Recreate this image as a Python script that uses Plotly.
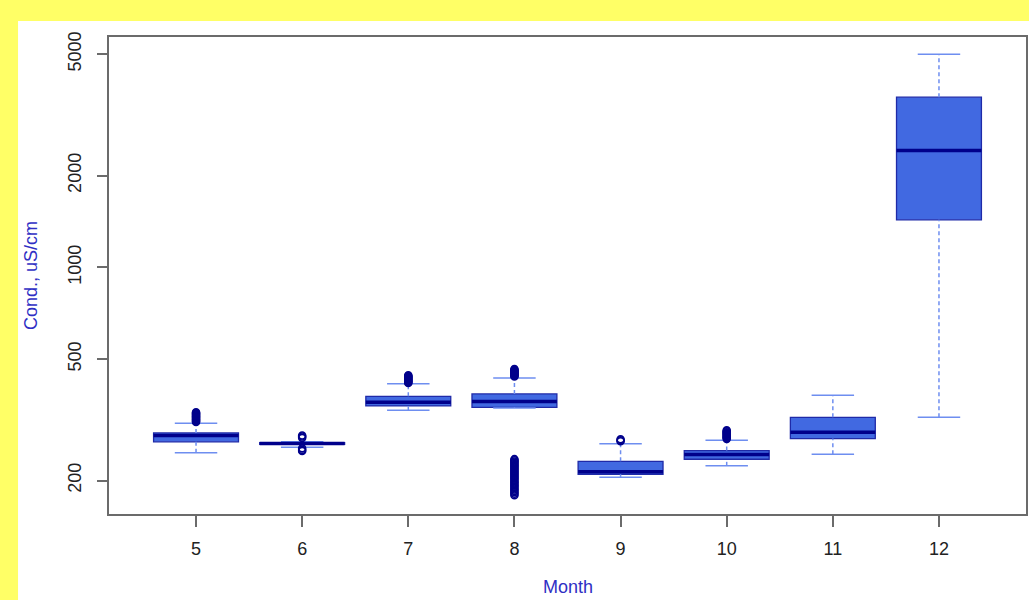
import plotly.graph_objects as go

# ---- data ----
months = [5, 6, 7, 8, 9, 10, 11, 12]
q1 = [267.8, 263.0, 351.3, 347.6, 209.7, 234.9, 274.5, 1432]
median = [280.8, 264.5, 361.0, 362.9, 213.6, 243.4, 287.9, 2415]
q3 = [286.6, 266.0, 377.7, 384.6, 231.3, 250.8, 322.3, 3613]
lower_whisker = [246.5, 257.2, 339.9, 346.0, 205.1, 223.5, 243.9, 322.3]
upper_whisker = [308.2, 267.8, 415.6, 434.0, 263.8, 271.0, 380.6, 4996]

outliers = {
    5: [311, 313, 315, 317, 319, 321, 323, 325, 327, 329, 331, 333, 335],
    6: [281, 279, 276, 255, 252, 250],
    7: [418, 420, 423, 425, 428, 430, 433, 435, 438, 440, 443],
    8: [439, 441, 444, 446, 449, 451, 454, 456, 459, 461, 464,
        235, 233, 231, 229, 227, 225, 223, 221, 219, 217, 215, 213, 211,
        209, 207, 205, 203, 201, 199, 197, 195, 193, 191, 189, 187, 185,
        183, 181, 179],
    9: [269, 271, 273],
    10: [274, 276, 278, 280, 282, 284, 286, 288, 290, 292],
    11: [],
    12: [],
}

y_ticks = [200, 500, 1000, 2000, 5000]
y_tick_labels = ["200", "500", "1000", "2000", "5000"]
x_title = "Month"
y_title = "Cond., uS/cm"

# ---- style ----
BOX_FILL = "#4169E1"
BOX_LINE = "#1f2aa8"
MEDIAN = "#00008B"
WHISK = "#6e8ef0"
OUT = "#00008B"
FRAME = "#6b6b6b"
LABEL = "#2f2fc4"
BOX_W = 0.8
CAP_W = 0.4

fig = go.Figure()

# whiskers (dashed)
wx, wy = [], []
for m, a, b, c, d in zip(months, q1, q3, lower_whisker, upper_whisker):
    wx += [m, m, None, m, m, None]
    wy += [b, d, None, c, a, None]
fig.add_trace(go.Scatter(x=wx, y=wy, mode="lines",
                         line=dict(color=WHISK, width=1.5, dash="4px,3px"),
                         hoverinfo="skip"))

# staples (caps)
cx, cy = [], []
for m, c, d in zip(months, lower_whisker, upper_whisker):
    cx += [m - CAP_W / 2, m + CAP_W / 2, None, m - CAP_W / 2, m + CAP_W / 2, None]
    cy += [d, d, None, c, c, None]
fig.add_trace(go.Scatter(x=cx, y=cy, mode="lines",
                         line=dict(color=WHISK, width=1.5),
                         hoverinfo="skip"))

# boxes
fig.add_trace(go.Box(x=months, q1=q1, median=median, q3=q3,
                     lowerfence=q1, upperfence=q3,
                     width=BOX_W, whiskerwidth=0,
                     fillcolor=BOX_FILL,
                     line=dict(color=BOX_LINE, width=1.3),
                     boxpoints=False, hoverinfo="skip"))

# medians (thick)
mx, my = [], []
for m, v in zip(months, median):
    mx += [m - BOX_W / 2, m + BOX_W / 2, None]
    my += [v, v, None]
fig.add_trace(go.Scatter(x=mx, y=my, mode="lines",
                         line=dict(color=MEDIAN, width=3.5),
                         hoverinfo="skip"))

# outliers
ox, oy = [], []
for m in months:
    for v in outliers[m]:
        ox.append(m)
        oy.append(v)
fig.add_trace(go.Scatter(x=ox, y=oy, mode="markers",
                         marker=dict(symbol="circle-open", size=7,
                                     color=OUT, line=dict(width=1.6, color=OUT)),
                         hoverinfo="skip"))

fig.update_layout(
    width=1029, height=600,
    margin=dict(l=109, r=3, t=37, b=86, pad=0, autoexpand=False),
    paper_bgcolor="#FFFF66",
    plot_bgcolor="white",
    showlegend=False,
    font=dict(family="Liberation Sans, Arial, sans-serif", size=18, color="#222222"),
    shapes=[dict(type="rect", xref="paper", yref="paper",
                 x0=-0.0992, x1=1.2, y0=-0.4, y1=1.0335,
                 fillcolor="white", line=dict(width=0), layer="below")],
    annotations=[dict(text=x_title, xref="paper", yref="paper",
                      x=0.5, y=-0.154, xanchor="center", yanchor="middle",
                      showarrow=False, font=dict(color=LABEL, size=18))],
    hovermode=False,
)

fig.update_xaxes(
    range=[4.18, 12.82], automargin=False,
    tickvals=months, ticktext=[str(m) for m in months],
    ticks="outside", ticklen=11, tickwidth=1.5, tickcolor=FRAME,
    showline=True, linecolor=FRAME, linewidth=1.5, mirror=True,
    showgrid=False, zeroline=False,
    ticklabelstandoff=7,
)

fig.update_yaxes(
    type="log", range=[2.1913, 3.7553], automargin=False,
    tickvals=y_ticks, ticktext=y_tick_labels, tickangle=-90,
    ticks="outside", ticklen=10, tickwidth=1.5, tickcolor=FRAME,
    showline=True, linecolor=FRAME, linewidth=1.5, mirror=True,
    showgrid=False, zeroline=False,
    ticklabelstandoff=9,
    title=dict(text=y_title, font=dict(color=LABEL, size=18), standoff=23),
)

fig.write_html("out.html")
